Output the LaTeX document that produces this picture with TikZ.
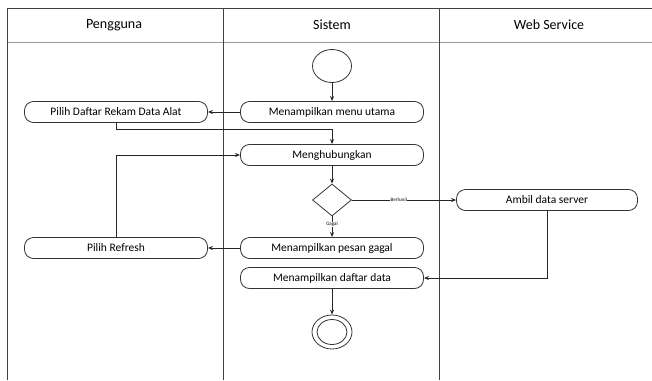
\documentclass[tikz,border=0pt]{standalone}
\usepackage{fontspec}
\setmainfont{Carlito}
\usetikzlibrary{shapes.geometric,arrows.meta}
\begin{document}
\begin{tikzpicture}[x=1pt,y=-1pt,
  act/.style={draw=black!80, line width=0.8pt, rounded corners=9pt, minimum width=183pt, minimum height=21pt, inner sep=0pt, font=\fontsize{11.5}{12}\selectfont},
  flow/.style={draw=black!85, line width=0.9pt, -{Stealth[length=5pt,width=4pt]}},
  lane/.style={draw=black!75, line width=0.9pt},
  hdr/.style={font=\fontsize{14}{16}\selectfont},
  lbl/.style={font=\fontsize{5}{6}\selectfont, fill=white, inner sep=0.5pt}]
\useasboundingbox (0,0) rectangle (652,380);
\fill[white] (0,0) rectangle (652,380);
% swimlanes
\draw[lane] (7,8) -- (652,8);
\draw[lane, draw=black!40] (7,42) -- (652,42);
\draw[lane] (7,8) -- (7,380);
\draw[lane] (223,8) -- (223,380);
\draw[lane] (439,8) -- (439,380);
\node[hdr] (h1) at (114,25) {Pengguna};
\node[hdr] (h2) at (332,25) {Sistem};
\node[hdr] (h3) at (549,25) {Web Service};
% nodes
\node[draw=black!80, line width=0.8pt, ellipse, minimum width=39pt, minimum height=33pt, inner sep=0pt] (start) at (332,66) {};
\node[act] (menu) at (332,112) {Menampilkan menu utama};
\node[act] (pilih) at (116,112) {Pilih Daftar Rekam Data Alat};
\node[act] (hub) at (332,155) {Menghubungkan};
\node[draw=black!80, line width=0.8pt, diamond, minimum width=39pt, minimum height=32pt, inner sep=0pt, shape aspect=1.2] (dec) at (332,200) {};
\node[act, minimum width=181pt] (ambil) at (547,200) {Ambil data server};
\node[act] (gagal) at (332,248) {Menampilkan pesan gagal};
\node[act] (refresh) at (116,248) {Pilih Refresh};
\node[act] (daftar) at (332,278) {Menampilkan daftar data};
\node[draw=black!80, line width=0.8pt, ellipse, minimum width=40pt, minimum height=34pt, inner sep=0pt] (endo) at (332,332) {};
\node[draw=black!80, line width=0.8pt, ellipse, minimum width=30pt, minimum height=25pt, inner sep=0pt] (endi) at (332,332) {};
% connectors
\coordinate (j1) at (116,129);
\draw[flow] (start) -- (menu);
\draw[flow] (menu) -- (pilih);
\draw[flow] (pilih.south) -- (j1) -| (hub.north);
\draw[flow] (refresh.north) |- (hub.west);
\draw[flow] (hub) -- (dec);
\draw[flow] (dec.east) -- node[lbl, pos=0.45] {Berhasil} (ambil.west);
\draw[flow] (dec.south) -- node[lbl, pos=0.4] {Gagal} (gagal.north);
\draw[flow] (gagal) -- (refresh);
\draw[flow] (ambil.south) |- (daftar.east);
\draw[flow] (daftar) -- (endo);
\end{tikzpicture}
\end{document}
